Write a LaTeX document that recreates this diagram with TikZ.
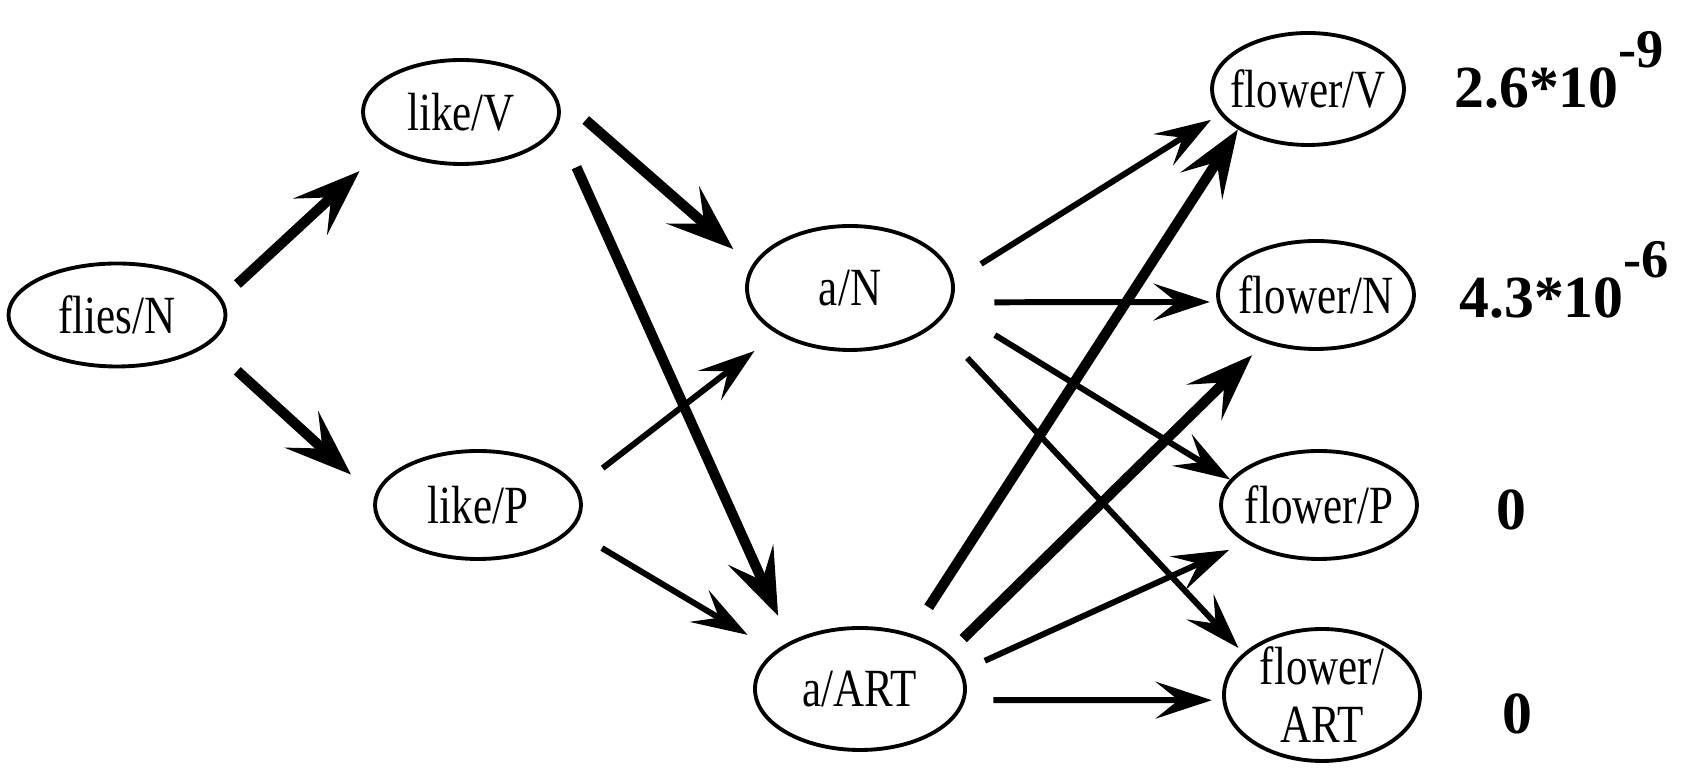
\documentclass[tikz,border=0pt]{standalone}
\usepackage{fontspec}
\setmainfont{Liberation Serif}
\newfontfamily\tagfamily[FakeStretch=0.8]{Liberation Serif}
\usetikzlibrary{shapes.geometric, arrows.meta}

\newcommand{\tagfont}{\tagfamily\fontsize{15.3}{16.5}\selectfont}
\newcommand{\scorefont}{\fontsize{17}{18}\selectfont\bfseries}
\newcommand{\expo}[1]{\raisebox{0.68em}{\fontsize{15.5}{15.5}\selectfont #1}}

\begin{document}
\begin{tikzpicture}[
    tag/.style={draw, ellipse, line width=1.1pt, inner xsep=-40pt, inner ysep=-9pt, font=\tagfont, align=center},
    heavy/.style={line width=2.9pt, -{Stealth[length=19pt, width=14pt, inset=8pt]}},
    light/.style={line width=1.7pt, -{Stealth[length=16pt, width=10.5pt, inset=6.5pt]}},
    score/.style={anchor=base west, font=\scorefont}
]
    \useasboundingbox (0,0) rectangle (17.02,7.68);

    % Word/tag nodes
    \node[tag, minimum width=2.17cm, minimum height=1.03cm] (flies) at (1.17,4.53) {flies/N};
    \node[tag, minimum width=1.96cm, minimum height=1.04cm] (likeV) at (4.61,6.56) {like/V};
    \node[tag, minimum width=2.06cm, minimum height=1.08cm] (likeP) at (4.78,2.63) {like/P};
    \node[tag, minimum width=2.06cm, minimum height=1.24cm] (aN) at (8.50,4.80) {a/N};
    \node[tag, minimum width=2.10cm, minimum height=1.22cm] (aART) at (8.60,0.79) {a/ART};
    \node[tag, minimum width=1.92cm, minimum height=1.12cm] (fV) at (13.08,6.79) {flower/V};
    \node[tag, minimum width=1.96cm, minimum height=1.08cm] (fN) at (13.16,4.73) {flower/N};
    \node[tag, minimum width=1.96cm, minimum height=1.08cm] (fP) at (13.19,2.63) {flower/P};
    \node[tag, minimum width=1.96cm, minimum height=1.32cm] (fART) at (13.22,0.73) {flower/\\ART};

    % Scores
    \node[score] (sV) at (14.42,6.60) {2.6*10\expo{-9}};
    \node[score] (sN) at (14.47,4.50) {4.3*10\expo{-6}};
    \node[score] (sP) at (14.84,2.38) {0};
    \node[score] (sART) at (14.90,0.34) {0};

    % flies -> like
    \draw[heavy, shorten <=6pt, shorten >=10pt] (flies.9) -- (likeV.205);
    \draw[heavy, shorten <=11pt, shorten >=9pt] (flies.342) -- (likeP.175);

    % like -> a
    \draw[heavy, shorten <=12pt, shorten >=7pt] (likeV.12) -- (aN.167);
    \draw[heavy, shorten <=13pt, shorten >=8pt] (likeV.352) -- (aART.146);
    \draw[light, shorten <=9pt, shorten >=8pt] (likeP.10) -- (aN.212);
    \draw[light, shorten <=10pt, shorten >=9pt] (likeP.345) -- (aART.156);

    % a -> flower
    \foreach \s/\t/\a/\b in {aN.4/fV.196/9pt/3pt, aN.352/fN.184/12pt/2pt, aN.349/fP.164/15pt/0pt,
                             aN.337/fART.152/13pt/2pt, aART.10/fP.207/7pt/5pt, aART.354/fART.183/8pt/3pt}
        \draw[light, shorten <=\a, shorten >=\b] (\s) -- (\t);
    \foreach \s/\t/\a/\b in {aART.47/fV.210/9pt/0pt, aART.22/fN.223/6pt/5pt}
        \draw[heavy, shorten <=\a, shorten >=\b] (\s) -- (\t);
\end{tikzpicture}
\end{document}
